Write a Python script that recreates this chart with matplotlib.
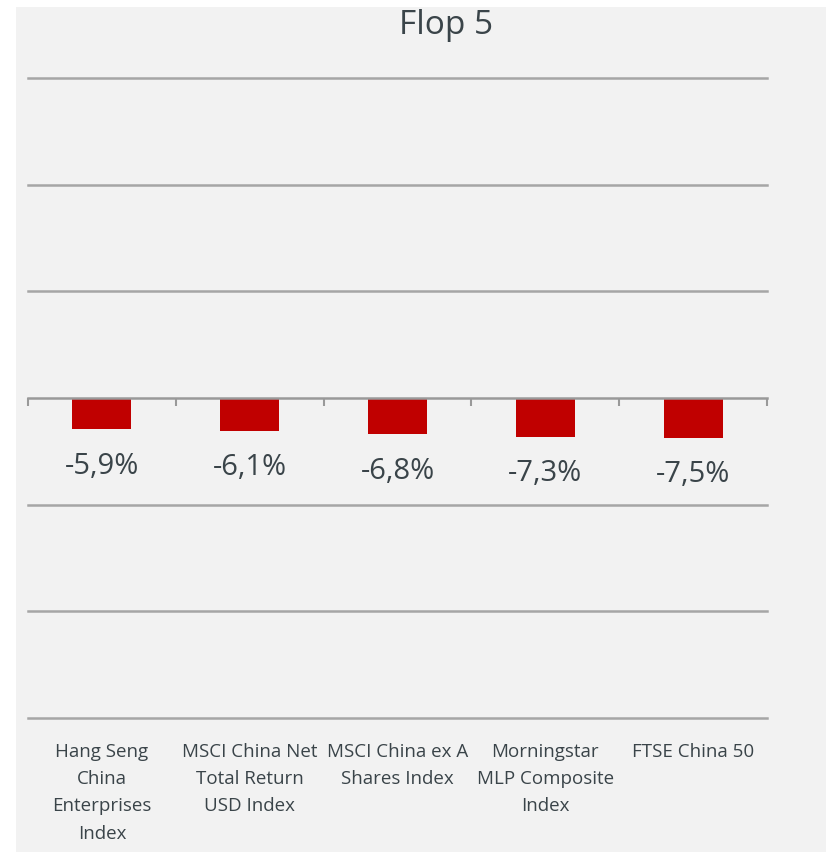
import matplotlib
matplotlib.use("Agg")
import matplotlib.pyplot as plt
from matplotlib.patches import Rectangle

# --- DATA ---
categories = [
    "Hang Seng\nChina\nEnterprises\nIndex",
    "MSCI China Net\nTotal Return\nUSD Index",
    "MSCI China ex A\nShares Index",
    "Morningstar\nMLP Composite\nIndex",
    "FTSE China 50",
]
values = [-5.9, -6.1, -6.8, -7.3, -7.5]
grid_levels = [-60, -40, -20, 20, 40, 60]

BAR = "#c00000"
TXT = "#3a4449"
GRID = "#a6a6a6"
BG = "#f2f2f2"

plt.rcParams["font.family"] = ["Open Sans", "DejaVu Sans"]

fig = plt.figure(figsize=(8.26, 8.52), dpi=100, facecolor="white")
# grey panel behind the chart
fig.patches.append(Rectangle((16 / 826, 0), 1 - 16 / 826, 1 - 7 / 852,
                             transform=fig.transFigure, facecolor=BG,
                             edgecolor="none", zorder=-10))

ax = fig.add_axes([28 / 826, 1 - 718 / 852, (767 - 28) / 826, (718 - 78) / 852])
ax.set_facecolor("none")

x = list(range(len(values)))
ax.bar(x, values, width=0.4, color=BAR, zorder=3)

for lvl in grid_levels:
    ax.axhline(lvl, color=GRID, linewidth=1.8, zorder=1, clip_on=False)

ax.set_xlim(-0.5, len(values) - 0.5)
ax.set_ylim(-60, 60)

# zero axis with small tick marks between categories
for s in ["top", "right", "left"]:
    ax.spines[s].set_visible(False)
ax.spines["bottom"].set_position(("data", 0))
ax.spines["bottom"].set_color("#999999")
ax.spines["bottom"].set_linewidth(1.8)
ax.spines["bottom"].set_zorder(4)
ax.set_yticks([])
ax.set_xticks([])
ax.set_xticks([i - 0.5 for i in range(len(values) + 1)], minor=True)
ax.tick_params(axis="x", which="minor", length=6, width=1.5, color="#999999",
               direction="out")

# category labels at the bottom of the plot area
sec = ax.secondary_xaxis(0.0)
sec.set_xticks(x)
sec.set_xticklabels(categories, fontsize=13.5, color=TXT, linespacing=1.66)
sec.tick_params(length=0, pad=18)
sec.spines["bottom"].set_visible(False)

for i, v in enumerate(values):
    lbl = f"{v:.1f}".replace(".", ",") + "%"
    ax.text(i, v - 6.9, lbl, ha="center", va="center", fontsize=21, color=TXT)

fig.text(446 / 826, 1 - 26 / 852, "Flop 5", ha="center", va="center",
         fontsize=24, color=TXT)

fig.savefig("out.png", dpi=100, facecolor=fig.get_facecolor())
